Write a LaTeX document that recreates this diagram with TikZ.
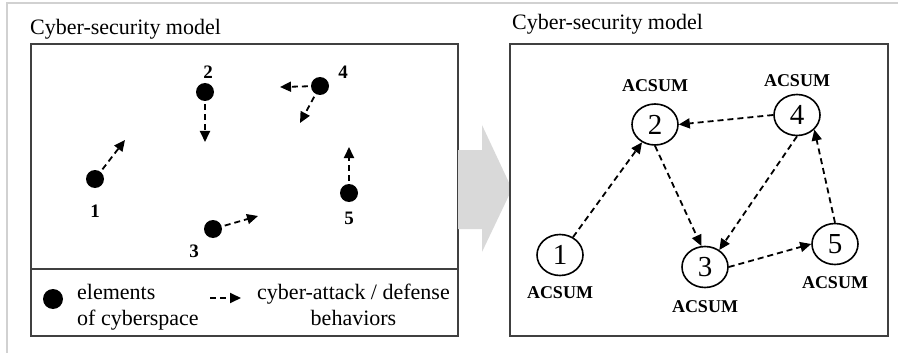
\documentclass[tikz,border=0pt]{standalone}
\usepackage{fontspec}
\setmainfont{Liberation Serif}
\usetikzlibrary{arrows.meta,shapes.geometric,positioning}

\begin{document}
\begin{tikzpicture}
[x=1pt,y=-1pt,
dot/.style={circle,fill=black,inner sep=0pt,minimum size=18pt},
num/.style={font=\fontsize{19}{19}\selectfont\bfseries,inner sep=0pt},
agent/.style={ellipse,draw,line width=1.6pt,minimum width=46pt,minimum height=41pt,inner sep=0pt,font=\fontsize{29}{29}\selectfont},
tag/.style={font=\fontsize{18}{18}\selectfont\bfseries,inner sep=0pt},
txt/.style={font=\fontsize{22}{26}\selectfont,inner sep=0pt},
act/.style={line width=1.8pt,dash pattern=on 6pt off 4pt,-{Triangle[length=11pt,width=10pt]}},
box/.style={draw=black!75,line width=1.5pt}]
\useasboundingbox (0,0) rectangle (898,353);
\draw[black!18,line width=2pt] (7,353) -- (7,3.5) -- (898,3.5);
\node[txt,anchor=base west] (t1) at (30,35) {Cyber-security model};
\node[txt,anchor=base west] (t2) at (512,30) {Cyber-security model};
\draw[box] (31,44) rectangle (458,336);
\draw[box] (31,269) -- (458,269);
\fill[gray!30] (458,150) -- (482,150) -- (482,125) -- (512,189) -- (482,252) -- (482,229) -- (458,229) -- cycle;
\draw[box,fill=white] (510,44) rectangle (888,336);
\node[dot] (e1) at (95,179) {};
\node[dot] (e2) at (205,92) {};
\node[dot] (e3) at (213,229) {};
\node[dot] (e4) at (320,86) {};
\node[dot] (e5) at (349,193) {};
\node[num] (n1) at (95,211) {1};
\node[num] (n2) at (208,72) {2};
\node[num] (n3) at (194,251) {3};
\node[num] (n4) at (343,72) {4};
\node[num] (n5) at (349,218) {5};
\coordinate (f1) at (125,140);
\coordinate (f2) at (205,142);
\coordinate (f3) at (258,216);
\coordinate (f4a) at (280,87);
\coordinate (f4b) at (300,123);
\coordinate (f5) at (349,147);
\draw[act,shorten <=3pt] (e1) -- (f1);
\draw[act,shorten <=3pt] (e2) -- (f2);
\draw[act,shorten <=3pt] (e3) -- (f3);
\draw[act,shorten <=3pt] (e4) -- (f4a);
\draw[act,shorten <=3pt] (e4) -- (f4b);
\draw[act,shorten <=3pt] (e5) -- (f5);
\node[dot,minimum size=20pt] (d0) at (53,299) {};
\node[txt,align=left,anchor=base west] (l0) at (77,325) {elements\\of cyberspace};
\coordinate (g0) at (210,298);
\coordinate (g1) at (241,298);
\draw[act] (g0) -- (g1);
\node[txt,align=center,anchor=base] (l1) at (353.5,325) {cyber-attack / defense\\behaviors};
\node[agent] (a1) at (560,255) {1};
\node[agent] (a2) at (655,124.5) {2};
\node[agent] (a3) at (705,267) {3};
\node[agent] (a4) at (797,115) {4};
\node[agent] (a5) at (835,244) {5};
\node[tag,below=10pt of a1] (s1) {ACSUM};
\node[tag,above=11pt of a2] (s2) {ACSUM};
\node[tag,below=12pt of a3] (s3) {ACSUM};
\node[tag,above=7pt of a4] (s4) {ACSUM};
\node[tag,below=11pt of a5] (s5) {ACSUM};
\draw[act] (a1) -- (a2);
\draw[act] (a2.south) -- (a3.100);
\draw[act] (a4.west) -- (a2.east);
\draw[act] (a4.south) -- (a3.50);
\draw[act] (a5.north) -- (a4.-40);
\draw[act] (a3.east) -- (a5.west);
\end{tikzpicture}
\end{document}
